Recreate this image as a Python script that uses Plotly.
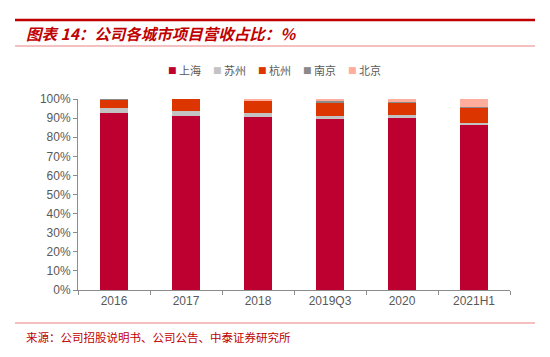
import plotly.graph_objects as go

categories = ["2016", "2017", "2018", "2019Q3", "2020", "2021H1"]
shanghai = [92.5, 91.3, 90.8, 90.0, 90.0, 86.6]
suzhou = [3.0, 2.4, 2.1, 0.9, 1.4, 0.9]
hangzhou = [4.2, 6.3, 6.1, 7.5, 6.8, 8.2]
nanjing = [0.3, 0.0, 0.0, 0.3, 0.4, 0.3]
beijing = [0.0, 0.0, 1.0, 1.3, 1.4, 4.0]

series = [
    ("上海", shanghai, "#BE0030"),
    ("苏州", suzhou, "#C3C3C3"),
    ("杭州", hangzhou, "#DC3500"),
    ("南京", nanjing, "#8A8A8A"),
    ("北京", beijing, "#FFAD9C"),
]

fig = go.Figure()
for name, vals, color in series:
    fig.add_trace(go.Bar(x=categories, y=vals, name=name, showlegend=False,
                         marker=dict(color=color, line=dict(width=0))))

L, R, T, B = 78, 40, 99, 67
W, H = 550 - L - R, 357 - T - B

def px(x):
    return (x - L) / W

def py(y):
    return (357 - B - y) / H

font_cjk = "Noto Sans CJK SC, Arial, sans-serif"

annotations = [
    dict(text="<b><i>图表 14：公司各城市项目营收占比：%</i></b>", xref="paper", yref="paper",
         x=px(24), y=py(33), xanchor="left", yanchor="middle", showarrow=False,
         font=dict(family=font_cjk, size=15.5, color="#C00000")),
    dict(text="来源：公司招股说明书、公司公告、中泰证券研究所", xref="paper", yref="paper",
         x=px(24), y=py(337), xanchor="left", yanchor="middle", showarrow=False,
         font=dict(family=font_cjk, size=11.5, color="#C00000")),
]
# manual legend
for i, (name, vals, color) in enumerate(series):
    x0 = 172 + 45 * i
    annotations.append(dict(text="■", xref="paper", yref="paper", x=px(x0), y=py(70),
                            xanchor="center", yanchor="middle", showarrow=False,
                            font=dict(family="DejaVu Sans", size=9, color=color)))
    annotations.append(dict(text=name, xref="paper", yref="paper", x=px(x0 + 5), y=py(70),
                            xanchor="left", yanchor="middle", showarrow=False,
                            font=dict(family=font_cjk, size=11, color="#595959")))

fig.update_layout(
    barmode="stack",
    bargap=0.61,
    width=550, height=357,
    margin=dict(l=L, r=R, t=T, b=B),
    plot_bgcolor="white", paper_bgcolor="white",
    font=dict(family="Liberation Sans, Arial, sans-serif", size=12, color="#595959"),
    showlegend=False,
    xaxis=dict(showline=True, linecolor="#8C8C8C", linewidth=1, ticks="outside",
               tickson="boundaries", ticklen=4, tickcolor="#8C8C8C",
               tickfont=dict(size=12, color="#595959")),
    yaxis=dict(range=[0, 100], dtick=10, ticksuffix="%", showgrid=False,
               showline=True, linecolor="#8C8C8C", linewidth=1, ticks="outside",
               ticklen=4, tickcolor="#8C8C8C", zeroline=False,
               tickfont=dict(size=12, color="#595959")),
    shapes=[
        dict(type="line", xref="paper", yref="paper", x0=px(15), x1=px(535),
             y0=py(20), y1=py(20), line=dict(color="#C00000", width=2.5)),
        dict(type="line", xref="paper", yref="paper", x0=px(15), x1=px(535),
             y0=py(46), y1=py(46), line=dict(color="#E88080", width=1)),
        dict(type="line", xref="paper", yref="paper", x0=px(15), x1=px(535),
             y0=py(323), y1=py(323), line=dict(color="#E88080", width=1)),
    ],
    annotations=annotations,
)

fig.write_html("out.html", config={"displayModeBar": False},
               post_script="document.body.style.margin='0';document.body.style.overflow='hidden';")
